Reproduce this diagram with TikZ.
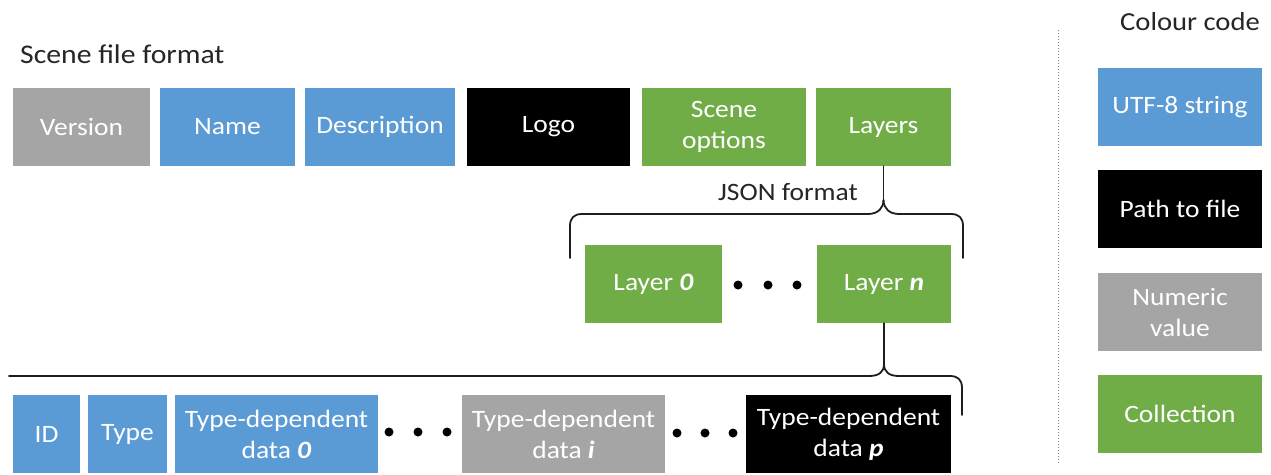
\documentclass[tikz,border=0pt]{standalone}
\usepackage{fontspec}
\setmainfont{Carlito}[FakeStretch=1.1]
\definecolor{cblue}{HTML}{5B9BD5}
\definecolor{cgreen}{HTML}{70AD47}
\definecolor{cgray}{HTML}{A5A5A5}
\definecolor{ctext}{HTML}{262626}
\definecolor{cline}{HTML}{1E1E1E}
\begin{document}
\begin{tikzpicture}[x=1pt,y=-1pt,
  box/.style={rectangle, inner sep=0pt, minimum height=78pt, text=white, align=center,
    font=\fontsize{25}{31}\selectfont},
  bluebox/.style={box, fill=cblue},
  greenbox/.style={box, fill=cgreen},
  graybox/.style={box, fill=cgray},
  blackbox/.style={box, fill=black},
  dotnode/.style={circle, fill=black, inner sep=0pt, minimum size=9pt},
  label/.style={text=ctext, inner sep=0pt},
  brace/.style={draw=cline, line width=1.8pt, line join=round, line cap=round}]
\useasboundingbox (0,0) rectangle (1271,474);
\fill[white] (0,0) rectangle (1271,474);

% title
\node[label, anchor=west, font=\fontsize{27}{30}\selectfont] (title) at (20,54) {Scene file format};

% top row
\node[graybox, minimum width=137pt] (version) at (81.5,127) {Version};
\node[bluebox, minimum width=135pt] (name) at (227.5,127) {Name};
\node[bluebox, minimum width=150pt] (desc) at (380,127) {Description};
\node[blackbox, minimum width=163pt] (logo) at (548.5,127) {Logo};
\node[greenbox, minimum width=164pt] (sceneopt) at (724,127) {Scene\\options};
\node[greenbox, minimum width=135pt] (layers) at (883.5,127) {Layers};

% JSON brace
\node[label, font=\fontsize{25}{30}\selectfont] (json) at (788,192) {JSON format};
\coordinate (t1) at (883.5,200);
\coordinate (b1L) at (570,258);
\coordinate (b1R) at (963,258);
\draw[brace] (layers.south) -- (t1);
\draw[brace] (b1L) -- (570,226) .. controls (570,218) and (574,214) .. (582,214) -- (868,214)
  .. controls (878,214) and (883.5,208) .. (t1);
\draw[brace] (b1R) -- (963,226) .. controls (963,218) and (959,214) .. (951,214) -- (899,214)
  .. controls (889,214) and (883.5,208) .. (t1);

% layers
\node[greenbox, minimum width=137pt] (layer0) at (653.5,284) {Layer \textbf{\textit{0}}};
\node[dotnode] (ld1) at (738,285) {};
\node[dotnode] (ld2) at (768,285) {};
\node[dotnode] (ld3) at (797,285) {};
\node[greenbox, minimum width=134pt] (layern) at (884,284) {Layer \textbf{\textit{n}}};

% second brace
\coordinate (t2) at (884,364);
\coordinate (b2L) at (9,376);
\coordinate (b2R) at (962,415);
\draw[brace] (layern.south) -- (t2);
\draw[brace] (b2L) -- (869,376) .. controls (879,376) and (884,372) .. (t2);
\draw[brace] (b2R) -- (962,388) .. controls (962,380) and (958,376) .. (950,376) -- (899,376)
  .. controls (889,376) and (884,372) .. (t2);

% bottom row
\node[bluebox, minimum width=67pt] (id) at (46.5,434) {ID};
\node[bluebox, minimum width=79pt] (type) at (127.5,434) {Type};
\node[bluebox, minimum width=203pt] (tdd0) at (276.5,434) {Type-dependent\\data \textbf{\textit{0}}};
\node[dotnode] (bd1) at (389,432) {};
\node[dotnode] (bd2) at (418,432) {};
\node[dotnode] (bd3) at (447,432) {};
\node[graybox, minimum width=203pt] (tddi) at (563.5,434) {Type-dependent\\data \textbf{\textit{i}}};
\node[dotnode] (bd4) at (677,433) {};
\node[dotnode] (bd5) at (705,433) {};
\node[dotnode] (bd6) at (733,433) {};
\node[blackbox, minimum width=205pt] (tddp) at (848.5,434) {Type-dependent\\data \textbf{\textit{p}}};

% separator
\coordinate (sepT) at (1058,30);
\coordinate (sepB) at (1058,465);
\draw[gray, dotted, line width=1pt] (sepT) -- (sepB);

% legend
\node[label, font=\fontsize{26}{30}\selectfont] (legtitle) at (1190,22) {Colour code};
\node[bluebox, minimum width=164pt] (lutf) at (1180,107) {UTF-8 string};
\node[blackbox, minimum width=164pt] (lpath) at (1180,209) {Path to file};
\node[graybox, minimum width=164pt] (lnum) at (1180,312) {Numeric\\value};
\node[greenbox, minimum width=164pt] (lcoll) at (1180,414) {Collection};
\end{tikzpicture}
\end{document}
